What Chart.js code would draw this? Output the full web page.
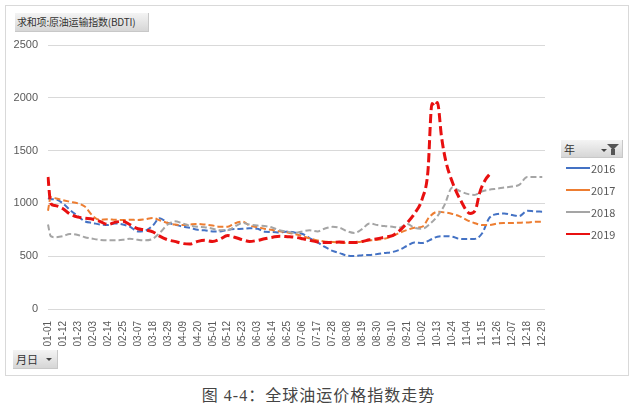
<!DOCTYPE html>
<html>
<head>
<meta charset="utf-8">
<script src="https://cdn.jsdelivr.net/npm/chart.js@4.4.1/dist/chart.umd.min.js"></script>
<style>
  html, body { margin: 0; padding: 0; background: #fff; }
  body { width: 637px; height: 403px; position: relative; overflow: hidden;
         font-family: "Noto Sans CJK SC", "Noto Sans", sans-serif; }
  #frame { position: absolute; left: 5px; top: 5px; width: 624px; height: 371px;
           border: 1px solid #d9d9d9; box-sizing: border-box; }
  #wrap { position: absolute; left: 0; top: 0; width: 637px; height: 377px; }
  .btn { position: absolute; background: linear-gradient(#f4f4f4, #d6d6d6);
         color: #333; font-size: 11px; line-height: 18px; box-sizing: border-box; white-space: nowrap;
         border-right: 1px solid #c8c8c8; border-bottom: 1px solid #c8c8c8; }
  #fieldBtn { left: 15px; top: 13px; width: 134px; height: 19px; padding-left: 2px; font-size: 10px; letter-spacing: -0.2px; }
  #axisBtn { left: 13px; top: 350px; width: 45px; height: 19px; padding-left: 3px; }
  #legendHead { left: 561px; top: 140px; width: 62px; height: 18px; padding-left: 3px; }
  .arrow { position: absolute; width: 0; height: 0; border-left: 3px solid transparent;
           border-right: 3px solid transparent; border-top: 3px solid #444; }
  .funnel { position: absolute; right: 3px; top: 4px; width: 0; height: 0;
            border-left: 6px solid transparent; border-right: 6px solid transparent;
            border-top: 6px solid #555; }
  .funnel:after { content: ""; position: absolute; left: -2px; top: -1px; width: 4px; height: 6px; background: #555; }
  #legend { position: absolute; left: 566px; top: 160px; }
  .item { height: 22px; position: relative; font-size: 11px; color: #595959; }
  .item span.ln { position: absolute; left: 0; top: 7px; width: 24px; height: 2px; }
  .item span.tx { position: absolute; left: 25px; top: 0; line-height: 16px; }
  #caption { position: absolute; left: 0; top: 382px; width: 637px; text-align: center; letter-spacing: 1px;
             font-family: "Liberation Serif", "Noto Sans CJK SC", serif; font-size: 16px; color: #444; }
</style>
</head>
<body>
<div id="frame"></div>
<div id="wrap"><canvas id="chart" width="637" height="377"></canvas></div>
<div class="btn" id="fieldBtn">求和项:原油运输指数(BDTI)</div>
<div class="btn" id="axisBtn">月日<span class="arrow" style="left:33px;top:8px"></span></div>
<div class="btn" id="legendHead">年<span class="arrow" style="left:40px;top:9px"></span><span class="funnel"></span></div>
<div id="legend"></div>
<div id="caption">图 4-4：全球油运价格指数走势</div>
<script>
// sampled days (MM-DD, leap-year calendar like the pivot axis)
const sampleDays = ['01-01', '01-03', '01-06', '01-12', '01-17', '01-23', '01-28', '02-03', '02-08', '02-14', '02-19',
  '02-25', '03-01', '03-07', '03-12', '03-18', '03-23', '03-29', '04-03', '04-09', '04-14', '04-20', '04-25',
  '05-01', '05-06', '05-12', '05-17', '05-23', '05-28', '06-03', '06-08', '06-14', '06-19', '06-25', '06-30',
  '07-06', '07-11', '07-17', '07-22', '07-28', '08-02', '08-08', '08-13', '08-19', '08-24', '08-30', '09-04',
  '09-10', '09-15', '09-21', '09-26', '10-02', '10-07', '10-13', '10-18', '10-24', '10-29', '11-04', '11-09',
  '11-15', '11-20', '11-26', '12-01', '12-07', '12-12', '12-18', '12-23', '12-29'];

const bdti2016 = [1050, 1040, 1040, 1000, 940, 880, 830, 815, 800, 795, 810,
  800, 780, 735, 740, 790, 860, 815, 800, 780, 770, 750, 745,
  735, 735, 750, 757, 760, 765, 760, 732, 730, 725, 735, 725,
  710, 672, 630, 590, 550, 530, 505, 502, 510, 512, 520, 530,
  540, 560, 600, 630, 625, 650, 685, 690, 685, 665, 663, 663,
  720, 860, 900, 905, 890, 880, 930, 925, 922];

const bdti2017 = [930, 1060, 1050, 1030, 1016, 1000, 970, 880, 845, 850, 845,
  843, 845, 843, 850, 862, 840, 815, 800, 795, 800, 805, 800,
  790, 780, 780, 810, 827, 790, 775, 760, 748, 735, 725, 710,
  690, 670, 650, 640, 635, 630, 625, 630, 640, 650, 655, 665,
  690, 720, 750, 770, 780, 870, 920, 915, 900, 880, 840, 815,
  795, 795, 810, 814, 815, 817, 820, 825, 827];

const bdti2018 = [800, 690, 680, 690, 710, 700, 680, 665, 655, 650, 650,
  655, 665, 655, 650, 665, 720, 800, 830, 810, 790, 778, 775,
  760, 745, 745, 780, 814, 800, 790, 786, 770, 745, 732, 720,
  735, 745, 735, 760, 778, 770, 735, 720, 760, 810, 795, 785,
  779, 770, 805, 770, 760, 800, 880, 980, 1150, 1120, 1090, 1080,
  1115, 1130, 1140, 1150, 1160, 1175, 1250, 1250, 1250];

const days2019 = ['01-01', '01-03', '01-06', '01-12', '01-17', '01-23', '01-28', '02-03', '02-08', '02-14', '02-19',
  '02-25', '03-01', '03-07', '03-12', '03-18', '03-23', '03-29', '04-03', '04-09', '04-14', '04-20', '04-25',
  '05-01', '05-06', '05-12', '05-17', '05-23', '05-28', '06-03', '06-08', '06-14', '06-19', '06-25', '06-30',
  '07-06', '07-11', '07-17', '07-22', '07-28', '08-02', '08-08', '08-13', '08-19', '08-24', '08-30', '09-04',
  '09-10', '09-15', '09-21', '09-26', '10-02', '10-06', '10-09', '10-11', '10-13', '10-16', '10-19', '10-24',
  '10-30', '11-06', '11-10', '11-13', '11-17', '11-21'];

const bdti2019 = [1250, 1000, 980, 950, 900, 870, 860, 850, 830, 800, 820,
  830, 800, 760, 750, 730, 690, 655, 640, 620, 615, 640, 650,
  640, 660, 695, 680, 655, 640, 650, 665, 680, 690, 685, 680,
  665, 650, 635, 630, 630, 635, 630, 630, 640, 655, 665, 680,
  695, 740, 820, 900, 1050, 1300, 1945, 1920, 1955, 1630, 1410, 1200,
  1030, 905, 940, 1100, 1220, 1285];

const yearNames = ['2016', '2017', '2018', '2019'];
const yearColors = ['#4472C4', '#ED7D31', '#A5A5A5', '#E81010'];

// every day of the (leap) year as category labels
const monthDays = [31, 29, 31, 30, 31, 30, 31, 31, 30, 31, 30, 31];
const dayLabels = [];
monthDays.forEach((n, m) => {
    for (let d = 1; d <= n; d++) {
        dayLabels.push(String(m + 1).padStart(2, '0') + '-' + String(d).padStart(2, '0'));
    }
});

function toPoints(days, values) {
    return days.map((d, i) => ({ x: d, y: values[i] }));
}

const seriesData = [
    toPoints(sampleDays, bdti2016),
    toPoints(sampleDays, bdti2017),
    toPoints(sampleDays, bdti2018),
    toPoints(days2019, bdti2019)
];

const ctx = document.getElementById('chart').getContext('2d');
new Chart(ctx, {
    type: 'line',
    data: {
        labels: dayLabels,
        datasets: yearNames.map((name, i) => ({
            label: name,
            data: seriesData[i],
            borderColor: yearColors[i],
            borderWidth: i === 3 ? 3 : 2,
            borderDash: i === 3 ? [9, 4] : [6, 3],
            pointRadius: 0,
            cubicInterpolationMode: 'monotone',
            fill: false,
            order: 3 - i
        }))
    },
    options: {
        responsive: false,
        animation: false,
        layout: { padding: { top: 45, right: 92, left: 0, bottom: 0 } },
        plugins: { legend: { display: false }, tooltip: { enabled: false } },
        scales: {
            x: {
                grid: { display: false },
                border: { display: false },
                ticks: {
                    autoSkip: false,
                    minRotation: 90,
                    maxRotation: 90,
                    padding: 4,
                    color: '#595959',
                    font: { size: 10, family: 'Liberation Sans' },
                    callback: function (value, index) {
                        return index % 11 === 0 ? dayLabels[index] : null;
                    }
                },
                afterFit: scale => { scale.height = 68; }
            },
            y: {
                min: 0,
                max: 2500,
                grid: { color: '#d9d9d9', drawTicks: false },
                border: { display: false },
                ticks: {
                    stepSize: 500,
                    padding: 10,
                    color: '#595959',
                    font: { size: 11, family: 'Liberation Sans' },
                    callback: value => String(value)
                },
                afterFit: scale => { scale.width = 48; }
            }
        }
    }
});

// legend in the pivot style
const legendBox = document.getElementById('legend');
yearNames.forEach((name, i) => {
    const row = document.createElement('div');
    row.className = 'item';
    row.innerHTML = `<span class="ln" style="background:${yearColors[i]}"></span><span class="tx">${name}</span>`;
    legendBox.appendChild(row);
});
</script>
</body>
</html>
